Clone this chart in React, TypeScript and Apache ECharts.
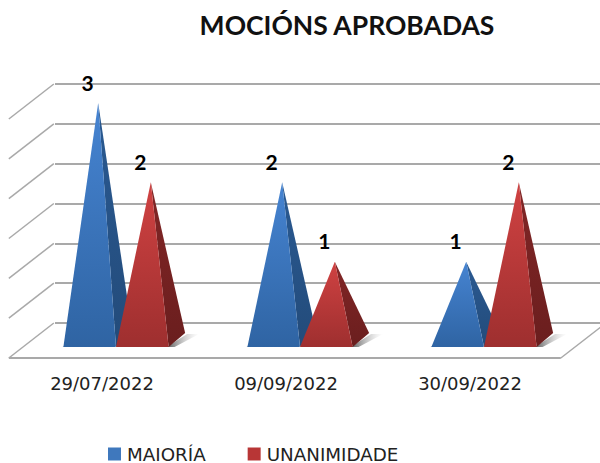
import React, { useEffect, useRef } from "react";
import * as echarts from "echarts";

const categories = ["29/07/2022", "09/09/2022", "30/09/2022"];
const maioria = [3, 2, 1];
const unanimidade = [2, 1, 2];
const wallTicks = [0, 0.5, 1, 1.5, 2, 2.5, 3];
const seriesNames = ["MAIORÍA", "UNANIMIDADE"];

const DEPTH_X = 45;
const DEPTH_Y = 35;

const grad = (a: string, b: string) => ({
  type: "linear", x: 0, y: 0, x2: 0, y2: 1,
  colorStops: [{ offset: 0, color: a }, { offset: 1, color: b }],
});

const pyramid = (seriesPos: number, front: string[], side: string[]) => (params: any, api: any) => {
  const idx = api.value(0);
  const v = api.value(1);
  const apex0 = api.coord([idx, v]);
  const base0 = api.coord([idx, 0]);
  const w = api.size([1, 0])[0] * 0.286;
  const mid = base0[0] + 14;
  const xl = mid + (seriesPos === 0 ? -w : 0);
  const xr = xl + w;
  const yf = base0[1] + 6;
  const yb = yf - 14;
  const ax = (xl + xr) / 2 + 8.5;
  const ay = apex0[1];
  const bx = xr + 16.5;
  return {
    type: "group",
    children: [
      {
        type: "polygon",
        shape: { points: [[xr - 2, yf], [bx + 2, yb + 1], [bx + 14, yb + 1], [xr + 6, yf]] },
        style: { fill: { type: "linear", x: 0, y: 0, x2: 1, y2: 0, colorStops: [{ offset: 0, color: "#555" }, { offset: 1, color: "rgba(200,200,200,0)" }] } },
      },
      {
        type: "polygon",
        shape: { points: [[xl - 1, yf], [xl + 6, yf - 5], [xl + 8, yf]] },
        style: { fill: "#c8c8c8" },
      },
      {
        type: "polygon",
        shape: { points: [[ax, ay], [xr, yf], [bx, yb]] },
        style: { fill: grad(side[0], side[1]) },
      },
      {
        type: "polygon",
        shape: { points: [[ax, ay], [xl, yf], [xr, yf]] },
        style: { fill: grad(front[0], front[1]) },
      },
      {
        type: "text",
        x: ax - 10.5,
        y: ay - 21,
        style: {
          text: String(v), fill: "#000", font: "bold 21px Lato",
          align: "center", verticalAlign: "middle",
        },
      },
    ],
  };
};

const wall = (params: any, api: any) => {
  const v = api.value(0);
  const [x, y] = api.coord([0, v]);
  const left = x - 92;
  const children: any[] = [];
  const lineStyle = { stroke: "#a9a9a9", lineWidth: 1.5, fill: "none" };
  children.push({
    type: "line",
    shape: { x1: left, y1: y, x2: left - DEPTH_X, y2: y + DEPTH_Y },
    style: lineStyle,
  });
  if (v === 0) {
    const fx = left - DEPTH_X;
    const fy = y + DEPTH_Y;
    children.push({
      type: "line", shape: { x1: fx, y1: fy, x2: fx + 552, y2: fy },
      style: { stroke: "#a9a9a9", lineWidth: 2 },
    });
    children.push({
      type: "line", shape: { x1: fx + 552, y1: fy, x2: fx + 552 + 40, y2: fy - 31 },
      style: lineStyle,
    });
  }
  return { type: "group", children };
};

export default function App() {
  const ref = useRef<HTMLDivElement>(null);
  useEffect(() => {
    document.body.style.margin = "0";
    const chart = echarts.init(ref.current!, undefined, { renderer: "svg" });
    chart.setOption({
      animation: false,
      backgroundColor: "#fff",
      title: {
        text: "MOCIÓNS APROBADAS",
        left: 342, top: 6, textAlign: "center",
        textStyle: { fontFamily: "Lato", fontWeight: "bold", fontSize: 26.5, color: "#111" },
      },
      legend: {
        data: [
          { name: seriesNames[0], itemStyle: { color: "#3f78bd" } },
          { name: seriesNames[1], itemStyle: { color: "#b83636" } },
        ],
        left: 103, top: 440, icon: "rect", itemWidth: 13, itemHeight: 13, itemGap: 42,
        textStyle: { fontFamily: "DejaVu Sans", fontSize: 18.3, lineHeight: 16, color: "#222", padding: [0, 0, 0, 1] },
      },
      grid: [
        { left: 55, width: 552, top: 84, bottom: 140 },
        { left: 10, width: 552, top: 103, bottom: 122 },
      ],
      xAxis: [
        { type: "category", gridIndex: 0, data: categories, show: false },
        {
          type: "category", gridIndex: 1, data: categories,
          axisLine: { show: false }, axisTick: { show: false },
          axisLabel: { margin: 33, fontFamily: "DejaVu Sans", fontSize: 18, color: "#222" },
        },
      ],
      yAxis: [
        {
          type: "value", gridIndex: 0, min: 0, max: 3, interval: 0.5,
          axisLine: { show: false }, axisTick: { show: false }, axisLabel: { show: false },
          splitLine: { show: true, lineStyle: { color: "#a9a9a9", width: 2 } },
        },
        {
          type: "value", gridIndex: 1, min: 0, max: 3, interval: 1,
          axisLine: { show: false }, axisTick: { show: false }, axisLabel: { show: false },
          splitLine: { show: false },
        },
      ],
      series: [
        {
          type: "custom", xAxisIndex: 0, yAxisIndex: 0, silent: true,
          renderItem: wall, data: wallTicks.map((t) => [t]), encode: { y: 0 }, clip: false, z: 1,
        },
        {
          name: seriesNames[0], type: "custom", xAxisIndex: 1, yAxisIndex: 1, clip: false, z: 2,
          renderItem: pyramid(0, ["#4684d2", "#2f64a3"], ["#2a5a92", "#234b7a"]),
          data: maioria.map((v, i) => [i, v]), encode: { x: 0, y: 1 },
        },
        {
          name: seriesNames[1], type: "custom", xAxisIndex: 1, yAxisIndex: 1, clip: false, z: 3,
          renderItem: pyramid(1, ["#d04242", "#9e2f2f"], ["#822626", "#6a1e1e"]),
          data: unanimidade.map((v, i) => [i, v]), encode: { x: 0, y: 1 },
        },
      ],
    });
    return () => chart.dispose();
  }, []);
  return <div ref={ref} style={{ width: 600, height: 463 }} />;
}
